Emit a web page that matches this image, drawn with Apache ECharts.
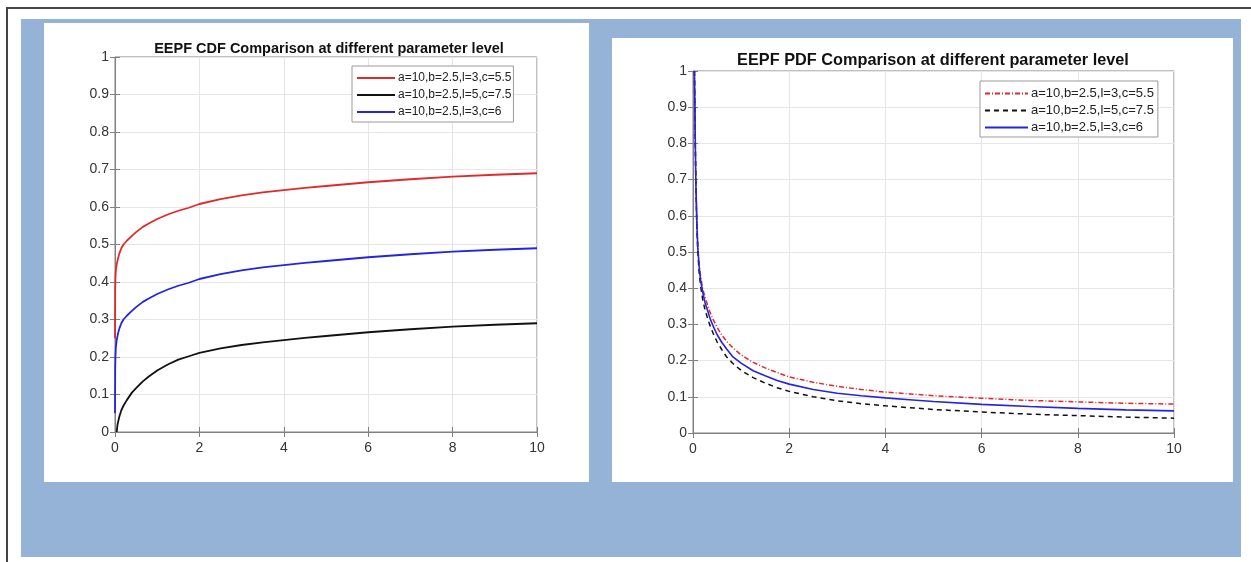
<!DOCTYPE html>
<html><head><meta charset="utf-8">
<script src="https://cdn.jsdelivr.net/npm/echarts@6/dist/echarts.min.js"></script>
<style>
html,body{margin:0;padding:0;background:#fff;width:1251px;height:562px;overflow:hidden;}
#frameTop{position:absolute;left:6px;top:7px;width:1245px;height:2px;background:#444;}
#frameLeft{position:absolute;left:6px;top:7px;width:2px;height:555px;background:#444;}
#blue{position:absolute;left:21px;top:19px;width:1220px;height:538px;background:#95b3d7;}
#cdf{position:absolute;left:44px;top:23px;width:545px;height:459px;background:#fff;}
#pdf{position:absolute;left:612px;top:38px;width:621px;height:444px;background:#fff;}
</style></head>
<body>
<div id="frameTop"></div><div id="frameLeft"></div>
<div id="blue"></div>
<div id="cdf"></div>
<div id="pdf"></div>
<script>
// ---- data ----
const seriesNames = ['a=10,b=2.5,l=3,c=5.5', 'a=10,b=2.5,l=5,c=7.5', 'a=10,b=2.5,l=3,c=6'];
const cdfTitle = 'EEPF CDF Comparison at different parameter level';
const pdfTitle = 'EEPF PDF Comparison at different parameter level';
const xTicks = [0, 2, 4, 6, 8, 10];
const yTicks = [0, 0.1, 0.2, 0.3, 0.4, 0.5, 0.6, 0.7, 0.8, 0.9, 1];

// CDF curves
const cdfRedX   = [0, 0.005, 0.01, 0.02, 0.04, 0.07, 0.1, 0.15, 0.2, 0.28, 0.4, 0.5, 0.66, 0.8, 1, 1.25, 1.5, 1.75, 2, 2.5, 3, 3.5, 4, 4.5, 5, 6, 7, 8, 9, 10];
const cdfRedY   = [0.25, 0.38, 0.41, 0.43, 0.447, 0.462, 0.475, 0.49, 0.5, 0.51, 0.523, 0.533, 0.547, 0.556, 0.568, 0.58, 0.59, 0.598, 0.608, 0.621, 0.631, 0.639, 0.645, 0.651, 0.656, 0.666, 0.674, 0.681, 0.686, 0.69];
const cdfBlackX = [0.04, 0.06, 0.1, 0.15, 0.2, 0.28, 0.4, 0.5, 0.66, 0.8, 1, 1.25, 1.5, 1.75, 2, 2.5, 3, 3.5, 4, 4.5, 5, 6, 7, 8, 9, 10];
const cdfBlackY = [0, 0.02, 0.04, 0.058, 0.07, 0.085, 0.105, 0.117, 0.135, 0.148, 0.164, 0.18, 0.193, 0.202, 0.211, 0.223, 0.232, 0.239, 0.245, 0.251, 0.256, 0.266, 0.274, 0.281, 0.286, 0.29];
const cdfBlueX  = [0, 0.005, 0.01, 0.02, 0.04, 0.07, 0.1, 0.15, 0.2, 0.28, 0.4, 0.5, 0.66, 0.8, 1, 1.25, 1.5, 1.75, 2, 2.5, 3, 3.5, 4, 4.5, 5, 6, 7, 8, 9, 10];
const cdfBlueY  = [0.05, 0.17, 0.2, 0.225, 0.245, 0.262, 0.275, 0.29, 0.3, 0.31, 0.323, 0.333, 0.347, 0.356, 0.368, 0.38, 0.39, 0.398, 0.408, 0.421, 0.431, 0.439, 0.445, 0.451, 0.456, 0.466, 0.474, 0.481, 0.486, 0.49];

// PDF curves
const pdfX      = [0.03, 0.04, 0.05, 0.06, 0.08, 0.1, 0.13, 0.16, 0.2, 0.25, 0.3, 0.35, 0.42, 0.5, 0.6, 0.7, 0.83, 1, 1.25, 1.5, 1.75, 2, 2.5, 3, 3.5, 4, 4.5, 5, 6, 7, 8, 9, 10];
const pdfRedY   = [1.0, 0.9, 0.78, 0.69, 0.585, 0.515, 0.465, 0.43, 0.4, 0.375, 0.355, 0.335, 0.313, 0.292, 0.27, 0.253, 0.235, 0.216, 0.195, 0.18, 0.167, 0.155, 0.14, 0.129, 0.12, 0.113, 0.108, 0.103, 0.096, 0.09, 0.086, 0.082, 0.08];
const pdfBlackY = [1.0, 0.88, 0.77, 0.68, 0.57, 0.5, 0.44, 0.405, 0.37, 0.34, 0.318, 0.298, 0.275, 0.252, 0.23, 0.21, 0.192, 0.173, 0.153, 0.138, 0.125, 0.115, 0.1, 0.089, 0.081, 0.075, 0.07, 0.065, 0.058, 0.052, 0.048, 0.044, 0.041];
const pdfBlueY  = [1.0, 0.9, 0.78, 0.69, 0.58, 0.51, 0.455, 0.42, 0.39, 0.36, 0.34, 0.318, 0.295, 0.272, 0.25, 0.232, 0.21, 0.193, 0.172, 0.158, 0.145, 0.135, 0.12, 0.11, 0.103, 0.097, 0.092, 0.087, 0.079, 0.073, 0.068, 0.064, 0.061];

const RED = '#e02a2a', BLACK = '#111111', BLUE = '#2424e0';
const FONT = 'Liberation Sans, Arial, sans-serif';

function zip(xs, ys){ return xs.map((x,i)=>[x, ys[i]]); }

function axes(gridCfg, fs){
  const common = {type:'value', min:xTicks[0], max:xTicks[xTicks.length-1], interval:xTicks[1]-xTicks[0]};
  const yc = {type:'value', min:yTicks[0], max:yTicks[yTicks.length-1], interval:0.1};
  const tick = {show:true, inside:true, length:5, lineStyle:{color:'#808080'}};
  return {
    grid: Object.assign({show:true, borderColor:'#808080', borderWidth:1, backgroundColor:'#fff'}, gridCfg),
    xAxis: [
      Object.assign({}, common, {position:'bottom', axisLine:{show:true, lineStyle:{color:'#808080'}}, axisTick:tick,
        axisLabel:{color:'#333', fontFamily:FONT, fontSize:fs.x, margin:9},
        splitLine:{show:true, lineStyle:{color:'#e6e6e6', width:1}}}),
      Object.assign({}, common, {position:'top', axisLine:{show:false}, axisTick:tick, axisLabel:{show:false}, splitLine:{show:false}})
    ],
    yAxis: [
      Object.assign({}, yc, {position:'left', axisLine:{show:true, lineStyle:{color:'#808080'}}, axisTick:tick,
        axisLabel:{color:'#333', fontFamily:FONT, fontSize:fs.y, margin:6, formatter:v=>String(+v.toFixed(1))},
        splitLine:{show:true, lineStyle:{color:'#e6e6e6', width:1}}}),
      Object.assign({}, yc, {position:'right', axisLine:{show:false}, axisTick:tick, axisLabel:{show:false}, splitLine:{show:false}})
    ]
  };
}

function line(name, data, color, type, width){
  return {name, type:'line', data, showSymbol:false, symbol:'none', smooth:false, clip:true,
    lineStyle:{color, width, type}, itemStyle:{color, opacity:0}, emphasis:{disabled:true}, animation:false};
}

function legend(left, top, iw, fsz, gap, pad){
  return {orient:'vertical', left, top, padding:pad, itemGap:gap, itemWidth:iw, itemHeight:12,
    backgroundColor:'#fff', borderColor:'#9a9a9a', borderWidth:1, itemStyle:{opacity:0},
    textStyle:{fontFamily:FONT, fontSize:fsz, color:'#222', padding:[0,0,0,-2]}, data: seriesNames};
}

const c1 = echarts.init(document.getElementById('cdf'), null, {renderer:'canvas'});
const o1 = axes({left:71, top:34, width:422, height:375}, {x:14, y:14});
o1.animation = false;
o1.title = {text: cdfTitle, left: 280, top: 13, textAlign:'center',
  textStyle:{fontFamily:FONT, fontSize:14.5, fontWeight:'bold', color:'#111'}};
o1.legend = legend(308, 43, 38, 12, 5, [6,2,4,4]);
o1.series = [
  line(seriesNames[0], zip(cdfRedX, cdfRedY), RED, 'solid', 1.8),
  line(seriesNames[1], zip(cdfBlackX, cdfBlackY), BLACK, 'solid', 1.8),
  line(seriesNames[2], zip(cdfBlueX, cdfBlueY), BLUE, 'solid', 1.8)
];
c1.setOption(o1);

const c2 = echarts.init(document.getElementById('pdf'), null, {renderer:'canvas'});
const o2 = axes({left:81, top:33, width:481, height:362}, {x:14, y:14});
o2.animation = false;
o2.title = {text: pdfTitle, left: 316, top: 10, textAlign:'center',
  textStyle:{fontFamily:FONT, fontSize:16.3, fontWeight:'bold', color:'#111'}};
o2.legend = legend(368, 43, 43, 13, 4, [6,4,3,4]);
o2.series = [
  line(seriesNames[0], zip(pdfX, pdfRedY), RED, [5,2,1,2], 1.5),
  line(seriesNames[1], zip(pdfX, pdfBlackY), BLACK, [5,4], 1.5),
  line(seriesNames[2], zip(pdfX, pdfBlueY), BLUE, 'solid', 1.6)
];
c2.setOption(o2);
</script>
</body></html>
